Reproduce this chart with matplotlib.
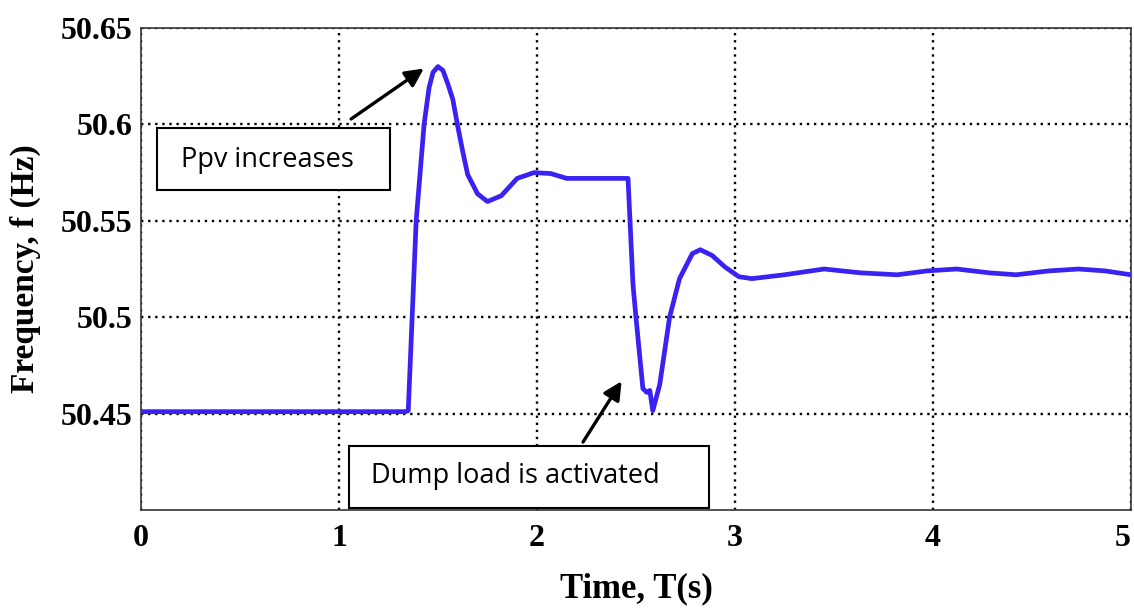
import numpy as np
import matplotlib
matplotlib.use('Agg')
import matplotlib.pyplot as plt
from matplotlib.patches import Rectangle

# frequency response
t = [0.0, 1.335, 1.35, 1.39, 1.43, 1.455, 1.475, 1.50, 1.525, 1.55, 1.575, 1.60,
     1.625, 1.65, 1.70, 1.75, 1.82, 1.90, 1.985, 2.07, 2.15, 2.46, 2.47, 2.485,
     2.50, 2.535, 2.555, 2.57, 2.585, 2.62, 2.67, 2.72, 2.785, 2.825, 2.885, 2.95,
     3.02, 3.085, 3.25, 3.45, 3.635, 3.82, 3.97, 4.12, 4.285, 4.42, 4.585, 4.735,
     4.87, 5.0]
f = [50.451, 50.451, 50.4515, 50.55, 50.60, 50.619, 50.627, 50.630, 50.628, 50.621,
     50.613, 50.599, 50.586, 50.574, 50.564, 50.560, 50.563, 50.572, 50.575,
     50.5745, 50.572, 50.572, 50.55, 50.517, 50.50, 50.463, 50.461, 50.462, 50.4515,
     50.465, 50.50, 50.52, 50.533, 50.535, 50.532, 50.526, 50.521, 50.520, 50.522,
     50.525, 50.523, 50.522, 50.524, 50.525, 50.523, 50.522, 50.524, 50.525,
     50.524, 50.522]

xticks = [0, 1, 2, 3, 4, 5]
yticks = [50.45, 50.5, 50.55, 50.6, 50.65]
ytick_labels = ['50.45', '50.5', '50.55', '50.6', '50.65']

fig = plt.figure(figsize=(11.34, 6.09), dpi=100)
ax = fig.add_axes([0.1243, 0.1626, 0.873, 0.7914])

ax.plot(t, f, color='#3a22f2', lw=3.4, solid_joinstyle='round',
        solid_capstyle='round', zorder=3)

ax.set_xlim(0, 5)
ax.set_ylim(50.40, 50.65)
ax.set_xticks(xticks)
ax.set_yticks(yticks)
ax.set_yticklabels(ytick_labels)
ax.grid(True, color='black', linestyle=(0, (1, 2.0)), lw=1.7)
ax.tick_params(axis='y', length=0, pad=6)
ax.tick_params(axis='x', length=0, pad=10)
for lab in ax.get_xticklabels() + ax.get_yticklabels():
    lab.set_fontfamily('Liberation Serif')
    lab.set_fontweight('bold')
    lab.set_fontsize(23)
ax.get_xticklabels()[-1].set_ha('right')
for sp in ax.spines.values():
    sp.set_color('#333333')
    sp.set_linewidth(1.2)

ax.set_xlabel('Time, T(s)', fontfamily='Liberation Serif', fontweight='bold',
              fontsize=25, labelpad=14)
ax.set_ylabel('Frequency, f (Hz)', fontfamily='Liberation Serif', fontweight='bold',
              fontsize=24, labelpad=14)

# annotation boxes
ax.add_patch(Rectangle((0.08, 50.566), 1.18, 0.032, fc='white', ec='black', lw=1.5, zorder=4))
ax.add_patch(Rectangle((1.05, 50.401), 1.82, 0.032, fc='white', ec='black', lw=1.5, zorder=4))
ax.text(0.20, 50.5815, 'Ppv increases', fontfamily='Open Sans', fontsize=19.5,
        va='center', ha='left', zorder=5)
ax.text(1.16, 50.4175, 'Dump load is activated', fontfamily='Open Sans', fontsize=19.5,
        va='center', ha='left', zorder=5)

arrow = dict(arrowstyle='-|>,head_length=1.1,head_width=0.55', color='black', lw=2.4)
ax.annotate('', xy=(1.44, 50.6298), xytext=(1.05, 50.602), arrowprops=arrow, zorder=5)
ax.annotate('', xy=(2.435, 50.468), xytext=(2.225, 50.434), arrowprops=arrow, zorder=5)

fig.savefig('out.png', dpi=100, facecolor='white')
